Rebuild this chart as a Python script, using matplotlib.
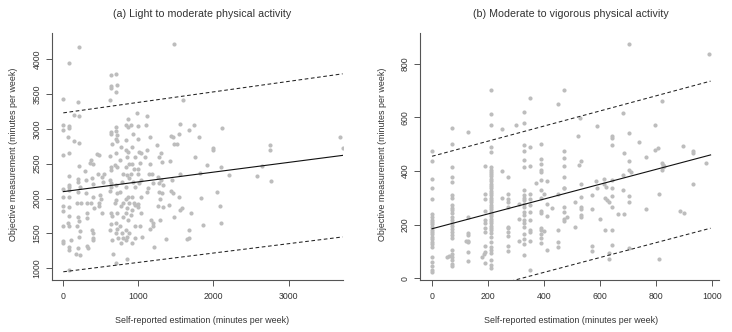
import matplotlib.pyplot as plt

plt.rcParams['font.family'] = ['Liberation Sans', 'DejaVu Sans']

# (a) light to moderate physical activity: self-report vs objective (min/week)
light_x = [
    0, 0, 0, 0, 0, 0, 0, 0, 0, 0, 0,
    70, 70, 70, 60, 70, 70, 75, 70, 70, 70, 70, 70, 65, 75, 70, 80, 70,
    140, 140, 100,
    210, 200, 210, 210, 210, 190, 200, 220, 200, 180, 230, 190, 210, 185, 220, 210, 190, 170, 220,
    290, 300, 300, 310, 320, 310, 320, 330,
    370, 350, 395, 380, 400, 400, 370, 410, 380, 390, 390, 400,
    450, 470, 460, 520, 530, 490, 500, 480, 470, 520, 540,
    640, 630, 650, 620, 630, 640, 620, 640, 630, 620, 630, 650, 640, 620, 650, 660, 630, 630, 640, 620,
    700, 710, 705, 700, 700, 710, 700, 710, 700, 690, 720, 700, 720, 700, 690, 720, 700, 720, 700, 730, 700,
    770, 760, 790, 780, 760, 800, 770, 790, 760, 780, 800, 770,
    860, 840, 860, 840, 830, 860, 850, 870, 840, 850, 870, 830, 860, 840, 870, 850, 830, 860, 840, 870, 850, 830, 850,
    900, 930, 910, 950, 920, 940, 900, 930, 950, 910, 940, 960, 920, 900, 950, 960, 910,
    980, 1000, 990, 1010, 1030, 1020, 1000, 990, 1040, 1010, 1030, 990, 1000, 1040, 1020, 1050,
    1110, 1100, 1160, 1120, 1090, 1160, 1140, 1180, 1200, 1130, 1110, 1170, 1190, 1200, 1160, 1210,
    1250, 1300, 1280, 1320, 1260, 1300, 1280, 1330, 1270, 1310, 1290, 1260, 1330, 1290, 1370,
    1440, 1460, 1480, 1420, 1450, 1430, 1460, 1410, 1470, 1470,
    1540, 1560, 1520, 1550, 1540, 1580, 1560, 1600,
    1680, 1740, 1750, 1700, 1680, 1650, 1670,
    1810, 1820, 1840, 1860, 1910,
    2000, 2000, 2100, 2050, 2090, 2100, 2120,
    2200, 2580, 2640, 2750, 2750, 2760, 3680, 3720,
]
light_y = [
    3430, 3050, 2980, 2620, 2140, 2020, 1900, 1820, 1610, 1390, 1370,
    3940, 3040, 3010, 2880, 2650, 2320, 2190, 2160, 2120, 2020, 1880, 1750, 1650, 1600, 1300, 1260, 970,
    3200, 2820, 1400,
    4180, 3390, 3190, 2800, 2470, 2280, 2240, 2170, 2100, 1930, 1930, 1730, 1680, 1600, 1540, 1450, 1290, 1210, 1190,
    2400, 2270, 2080, 1930, 1790, 1720, 1320, 1290,
    2550, 2510, 2500, 2290, 2210, 2030, 1940, 1860, 1550, 1500, 1440, 1410,
    2640, 2620, 2360, 2310, 2240, 2050, 1990, 1940, 1890, 1790, 2350,
    2960, 2930, 2790, 2610, 2460, 2410, 2270, 2230, 2170, 2110, 1790, 1750, 1640, 1550, 1410, 1210, 3770, 3610, 3590, 3420,
    3790, 3630, 3530, 3030, 2970, 2910, 2860, 2830, 2650, 2480, 2450, 2190, 2080, 1980, 1930, 1790, 1650, 1570, 1500, 1440, 1080,
    2740, 2550, 2360, 2240, 2100, 1940, 1890, 1740, 1600, 1510, 1440, 1360,
    3140, 3050, 3030, 2840, 2700, 2670, 2600, 2500, 2460, 2340, 2290, 2170, 2030, 1990, 1930, 1860, 1790, 1690, 1550, 1500, 1450, 1410, 1140,
    3050, 2930, 2740, 2600, 2500, 2430, 2360, 2240, 2170, 2030, 1930, 1910, 1840, 1760, 1600, 1440, 1360,
    3230, 3040, 2860, 2670, 2650, 2510, 2430, 2360, 2270, 2220, 2030, 1920, 1880, 1790, 1600, 1450,
    3180, 3050, 2880, 2700, 2600, 2500, 2360, 2350, 2230, 2150, 2100, 1690, 1650, 1600, 1560, 1300,
    2770, 2650, 2600, 2530, 2310, 2270, 2230, 2190, 2100, 2080, 1990, 1890, 1880, 1690, 1420,
    2900, 2880, 2790, 2540, 2270, 2110, 2080, 1910, 1740, 4220,
    2930, 3070, 2790, 2360, 2030, 1870, 1830, 3410,
    2980, 3050, 2600, 1790, 1550, 1420, 1430,
    2890, 2370, 2010, 1620, 2480,
    2720, 2700, 2460, 2100, 1900, 1650, 3020,
    2340, 2320, 2470, 2770, 2700, 2250, 2890, 2720,
]
light_line_x = [0, 3720]
light_fit = [2100, 2620]
light_upper = [3230, 3790]
light_lower = [950, 1450]

# (b) moderate to vigorous physical activity
vig_x = [
    0, 0, 0, 0, 0, 0, 0, 0, 0, 0, 0, 0, 0, 0, 0, 0, 0, 0, 0, 0, 0, 0, 0, 0,
    70, 70, 70, 70, 70, 70, 70, 70, 70, 70, 70, 70, 70, 70, 70, 70, 70, 70, 70, 70, 70, 70, 70, 70, 70, 60, 55,
    130, 130, 130, 130, 130, 130, 130, 130, 120,
    190, 190, 190, 190, 190, 190, 190, 190, 190, 190, 190, 180, 185,
    210, 210, 210, 210, 210, 210, 210, 210, 210, 210, 210, 210, 210, 210, 210, 210, 210, 210, 210, 210, 210,
    210, 210, 210, 210, 210, 210, 210, 210, 210, 210, 210, 210, 210, 210, 210, 210, 210, 210, 210, 210, 210,
    250, 250, 250,
    270, 270, 270, 270, 270, 270, 270, 270, 270, 270, 270,
    300, 310, 310, 310,
    330, 330, 330, 330, 330, 330, 330, 330, 330, 330, 330, 330, 330, 330, 330, 330, 330, 330, 330, 330, 330,
    350, 350, 350, 350, 350, 350, 350, 350, 350, 350, 350, 350,
    370,
    390, 390, 390, 390, 390, 390, 390, 390, 390, 390, 390, 390, 390, 390, 390,
    400, 400, 410, 410, 410, 410, 430,
    450, 450, 450, 450, 450,
    470, 470, 470, 470, 470, 470, 470, 470, 470, 470, 470, 483,
    510, 510,
    522, 531, 525, 531, 531, 531, 531, 531, 531, 530,
    570, 570, 570, 570, 590, 586, 590, 600,
    615, 615, 620, 618, 624, 631, 619, 633, 633,
    644, 644, 644, 644, 644, 644, 644, 644, 644, 665,
    681, 681, 681, 687, 687,
    705, 705, 705, 705, 710, 705, 705, 705, 739, 764, 764,
    796, 796, 808, 810, 810, 822, 822, 826, 826, 830, 822,
    886, 900, 898, 931, 931, 931, 977, 990,
]
vig_y = [
    475, 436, 372, 336, 296, 239, 229, 219, 210, 202, 192, 182, 173, 164, 155, 145, 135, 127, 118, 80, 62, 47, 33, 25,
    559, 499, 415, 378, 359, 310, 301, 273, 264, 254, 244, 230, 217, 207, 195, 183, 173, 160, 150, 104, 92, 80, 67, 55, 45, 85, 80,
    546, 227, 170, 161, 140, 136, 99, 65, 139,
    418, 316, 294, 252, 217, 207, 186, 174, 120, 99, 58, 81, 90,
    703, 611, 570, 490, 471, 415, 405, 397, 388, 380, 371, 362, 353, 345, 336, 327, 318, 309, 300, 292, 283,
    275, 266, 258, 249, 240, 231, 222, 213, 205, 196, 188, 180, 170, 155, 136, 118, 104, 93, 68, 49, 40,
    400, 298, 558,
    376, 313, 297, 285, 267, 192, 186, 171, 158, 120, 103,
    573, 223, 140, 278,
    620, 580, 496, 474, 440, 415, 328, 309, 301, 291, 279, 267, 249, 236, 217, 207, 192, 167, 145, 130, 87,
    673, 489, 417, 316, 297, 273, 249, 217, 180, 174, 140, 31,
    355,
    500, 443, 428, 405, 396, 366, 329, 298, 252, 242, 189, 180, 167, 151, 133,
    177, 316, 364, 277, 232, 105, 264,
    651, 316, 182, 136, 118,
    703, 475, 447, 420, 379, 338, 335, 266, 248, 220, 214, 229,
    192, 285,
    529, 436, 422, 353, 304, 266, 259, 236, 229, 599,
    310, 257, 120, 103, 569, 363, 335, 220,
    372, 351, 341, 301, 291, 285, 180, 93, 74,
    529, 523, 496, 366, 335, 306, 266, 180, 124, 239,
    616, 384, 329, 467, 239,
    872, 540, 438, 403, 396, 306, 284, 112, 507, 452, 260,
    570, 477, 484, 316, 74, 661, 430, 424, 416, 420, 404,
    250, 244, 492, 475, 467, 351, 430, 835,
]
vig_line_x = [0, 995]
vig_fit = [185, 460]
vig_upper = [455, 735]
vig_lower = [-88, 187]

pt_color = '#bdbdbd'
axis_color = '#555555'
text_color = '#333333'

fig = plt.figure(figsize=(7.32, 3.32), dpi=100)
ax1 = fig.add_axes([0.0710, 0.1566, 0.398, 0.743])
ax2 = fig.add_axes([0.5742, 0.1566, 0.408, 0.743])


def draw(ax, x, y, line_x, fit, upper, lower, xlim, ylim, xticks, yticks):
    ax.scatter(x, y, s=9, color=pt_color, linewidths=0, zorder=2)
    ax.plot(line_x, fit, color='#111111', lw=0.8, zorder=3)
    ax.plot(line_x, upper, color='#222222', lw=0.75, ls=(0, (3.5, 2.5)), zorder=3)
    ax.plot(line_x, lower, color='#222222', lw=0.75, ls=(0, (3.5, 2.5)), zorder=3)
    ax.set_xlim(xlim)
    ax.set_ylim(ylim)
    for s in ['top', 'right']:
        ax.spines[s].set_visible(False)
    for s in ['left', 'bottom']:
        ax.spines[s].set_color(axis_color)
        ax.spines[s].set_linewidth(0.8)
    ax.set_xticks(xticks)
    ax.set_yticks(yticks)
    ax.set_yticklabels([str(t) for t in yticks], rotation=90, va='center')
    ax.tick_params(direction='out', length=4, width=0.7, colors=axis_color,
                   labelcolor=text_color, labelsize=6.3)
    ax.tick_params(axis='x', pad=4.5)
    ax.tick_params(axis='y', pad=3.5)


draw(ax1, light_x, light_y, light_line_x, light_fit, light_upper, light_lower,
     (-151, 3729), (832, 4371), [0, 1000, 2000, 3000], [1000, 1500, 2000, 2500, 3000, 3500, 4000])
draw(ax2, vig_x, vig_y, vig_line_x, vig_fit, vig_upper, vig_lower,
     (-42, 1025), (-6, 913), [0, 200, 400, 600, 800, 1000], [0, 200, 400, 600, 800])

fig.text(0.2756, 0.958, '(a) Light to moderate physical activity', ha='center', va='center',
         fontsize=7.7, color=text_color)
fig.text(0.780, 0.958, '(b) Moderate to vigorous physical activity', ha='center', va='center',
         fontsize=7.7, color=text_color)
for cx in [0.2756, 0.780]:
    fig.text(cx, 0.036, 'Self-reported estimation (minutes per week)', ha='center', va='center',
             fontsize=6.4, color=text_color)
for lx in [0.0178, 0.523]:
    fig.text(lx, 0.536, 'Objective measurement (minutes per week)', ha='center', va='center',
             rotation=90, fontsize=6.4, color=text_color)

fig.savefig('out.png', dpi=100)
